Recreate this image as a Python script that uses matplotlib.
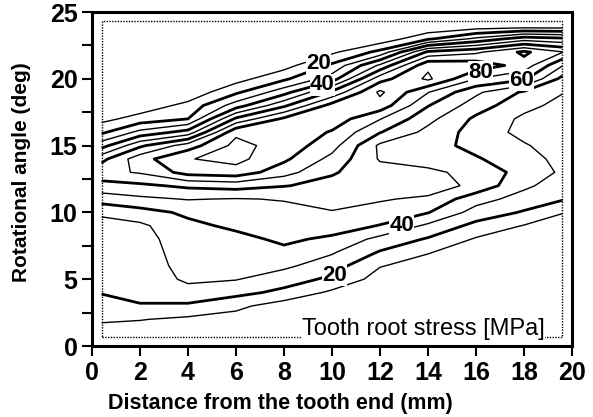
import numpy as np
import matplotlib
matplotlib.use("Agg")
import matplotlib.pyplot as plt
from matplotlib import font_manager
from matplotlib.patches import Rectangle

plt.rcParams['font.family'] = ['Liberation Sans', 'DejaVu Sans']
_names = {f.name for f in font_manager.fontManager.ttflist}
narrow = 'Liberation Sans Narrow' if 'Liberation Sans Narrow' in _names else 'Liberation Sans'

# grid: distance (mm) columns, rotational angle (deg) rows
distance_mm = [0.4, 2, 4, 6, 8, 10, 12, 14, 16, 18, 19.6]
angle_deg = [0.7, 2, 3, 4, 5, 6, 7, 8, 9, 10, 11, 12, 13, 14, 15, 16, 17, 18,
             19, 20, 21, 22, 23, 24, 24.3]

# tooth root stress [MPa] along each distance column (bottom -> top)
stress_x0_4 = [4, 11.5, 16, 20.5, 22, 23, 24, 26, 28, 31, 45, 56, 67, 57, 36, 18, 7, 2, 0, 0, 0, 0, 0, 0, 0]
stress_x02 = [3, 10.5, 19.5, 22, 23, 24, 25, 26, 28, 36, 48, 58, 71, 76, 58, 33, 14, 4, 0, 0, 0, 0, 0, 0, 0]
stress_x04 = [2, 8, 18.5, 26, 32, 34, 35, 36, 37.5, 42, 50.5, 62, 84, 89.5, 75, 44, 20, 13, 3, 0, 0, 0, 0, 0, 0]
stress_x06 = [1, 6, 12.5, 23, 30.5, 33, 35, 37, 42, 46, 49.5, 64, 86, 93, 93, 88, 62, 35, 18, 6, 0, 0, 0, 0, 0]
stress_x08 = [0, 4, 5, 17.5, 24.5, 32, 37.5, 42, 45, 47.5, 50.5, 60.5, 74, 82, 86, 88, 82, 58, 36, 18, 6, 0, 0, 0, 0]
stress_x10 = [0, 1, 4, 8, 18, 24.5, 31, 38, 45, 49.5, 53, 57, 61, 67, 74, 79, 86, 84, 62, 35, 22, 8, 0, 0, 0]
stress_x12 = [0, 0, 1, 3, 6, 10.5, 19, 27, 39.5, 46, 51, 53, 54, 49, 48, 60.5, 70.5, 86, 92, 76, 52, 23, 3, 0, 0]
stress_x14 = [0, 0, 0, 1, 3, 6, 10.5, 19, 28, 40.5, 48, 56, 52, 46, 44, 47, 53, 60.5, 70.5, 92, 88, 62, 18, 0, 0]
stress_x16 = [0, 0, 0, 0, 0, 2, 5, 9, 17, 26, 34, 47, 47, 41, 37, 36, 38, 45, 52, 70, 86, 68, 32, 2, 0]
stress_x18 = [0, 0, 0, 0, 0, 0, 2, 5, 9.5, 19, 26, 32, 36, 34, 31, 27, 28, 33, 38.5, 62, 76, 82, 45, 2, 0]
stress_x19_6 = [0, 0, 0, 0, 0, 0, 0, 1, 5, 10.5, 21, 25, 28.5, 27, 25, 24, 25, 27, 30.5, 37, 50.5, 70.5, 42, 2, 0]

thin_levels = [10, 30, 50, 70, 90]
thick_levels = [20, 40, 60, 80]
label_positions = [(10.1, 5.3), (9.45, 21.15), (12.9, 9.0), (9.6, 19.55),
                   (17.9, 19.9), (16.2, 20.5)]

xticks = [0, 2, 4, 6, 8, 10, 12, 14, 16, 18, 20]
yticks = [0, 5, 10, 15, 20, 25]

Z = np.column_stack([stress_x0_4, stress_x02, stress_x04, stress_x06, stress_x08,
                     stress_x10, stress_x12, stress_x14, stress_x16, stress_x18,
                     stress_x19_6])
X, Y = np.meshgrid(distance_mm, angle_deg)

fig = plt.figure(figsize=(5.93, 4.17), dpi=100)
ax = fig.add_axes([92 / 593, 71 / 417, 480 / 593, 334 / 417])

cs_thin = ax.contour(X, Y, Z, levels=thin_levels, colors='black', linewidths=1.0)
cs_thick = ax.contour(X, Y, Z, levels=thick_levels, colors='black', linewidths=2.0)

ax.clabel(cs_thick, manual=label_positions, inline=False,
          fmt='%d', fontsize=16)
for t, pos in zip(cs_thick.labelTexts, label_positions):
    t.set_position(pos)
    t.set_rotation(0)
    t.set_fontfamily(narrow)
    t.set_fontweight('bold')
    t.set_bbox(dict(facecolor='white', edgecolor='none', pad=0.2))
    t.set_zorder(5)

# dotted inner frame of the computed region
ax.add_patch(Rectangle((distance_mm[0], angle_deg[0]),
                       distance_mm[-1] - distance_mm[0],
                       angle_deg[-1] - angle_deg[0],
                       fill=False, linestyle=(0, (1, 1)), linewidth=1.0,
                       edgecolor='black', zorder=4))

ax.text(13.8, 1.3, 'Tooth root stress [MPa]', ha='center', va='center',
        fontsize=17, zorder=6,
        bbox=dict(facecolor='white', edgecolor='none', pad=0.5))

ax.set_xlim(0, 20)
ax.set_ylim(0, 25)
ax.set_xticks(xticks)
ax.set_yticks(yticks)
ax.set_yticks([2.5, 7.5, 12.5, 17.5, 22.5], minor=True)
ax.tick_params(axis='both', which='both', direction='out', length=7, width=1.5)
ax.tick_params(axis='both', labelsize=18)
for lab in ax.get_xticklabels() + ax.get_yticklabels():
    lab.set_fontweight('bold')
    lab.set_fontfamily(narrow)
for sp in ax.spines.values():
    sp.set_linewidth(2.2)

fig.text(280 / 593, 1 - 404 / 417, 'Distance from the tooth end (mm)',
         ha='center', va='center', fontsize=15.5, fontweight='bold')
fig.text(22 / 593, 1 - 172 / 417, 'Rotational angle (deg)', rotation=90,
         ha='center', va='center', fontsize=15, fontweight='bold')

fig.savefig('out.png', dpi=100)
